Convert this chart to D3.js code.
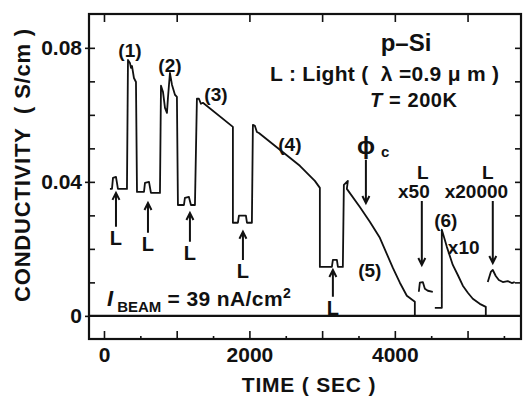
<!DOCTYPE html>
<html>
<head>
<meta charset="utf-8">
<script src="https://cdn.jsdelivr.net/npm/d3@7/dist/d3.min.js"></script>
<style>
  body { margin: 0; background: #fff; }
  svg text { font-family: "Liberation Sans", Arial, sans-serif; font-weight: bold; fill: #111; white-space: pre; }
</style>
</head>
<body>
<svg id="graph"></svg>
<script>
// runs (1) - (5), one continuous trace (time in s, conductivity in S/cm)
const mainTime = [82, 110, 124, 165, 192, 316, 330, 357, 371, 385, 412, 440, 454, 550, 564, 619, 646, 770,
    784, 811, 839, 866, 880, 907, 935, 976, 1003, 1017, 1100, 1113, 1168, 1196, 1251, 1278, 1306, 1333, 1361,
    1773, 1773, 1842, 1856, 1952, 1966, 2034, 2048, 2076, 2103, 2131, 2419, 2694, 2900, 2969, 2969, 3134,
    3148, 3203, 3217, 3285, 3299, 3354, 3340, 3519, 3656, 3794, 3973, 4069, 4165, 4275, 4275]
const mainCond = [0.0379, 0.0379, 0.0412, 0.0415, 0.0379, 0.0379, 0.0764, 0.0755, 0.0740, 0.0746, 0.0710,
    0.0698, 0.0370, 0.0370, 0.0397, 0.0400, 0.0367, 0.0367, 0.0687, 0.0669, 0.0621, 0.0606, 0.0651, 0.0725,
    0.0690, 0.0660, 0.0654, 0.0331, 0.0331, 0.0352, 0.0355, 0.0331, 0.0331, 0.0648, 0.0648, 0.0633, 0.0636,
    0.0564, 0.0278, 0.0278, 0.0299, 0.0299, 0.0278, 0.0278, 0.0570, 0.0567, 0.0549, 0.0546, 0.0496, 0.0448,
    0.0403, 0.0382, 0.0146, 0.0146, 0.0167, 0.0167, 0.0146, 0.0146, 0.0391, 0.0403, 0.0379, 0.0325, 0.0281,
    0.0233, 0.0143, 0.0099, 0.0060, 0.0042, 0]

// run (6), plotted x10
const run6Time = [4550, 4646, 4646, 4687, 4715, 4797, 4866, 4935, 5004, 5072, 5168, 5251, 5251]
const run6Cond = [0.0024, 0.0024, 0.0257, 0.0227, 0.0206, 0.0152, 0.0122, 0.0090, 0.0069, 0.0051, 0.0036, 0.0027, 0]

// light pulses at x50 and x20000
const x50Time = [4330, 4344, 4385, 4413, 4454, 4522]
const x50Cond = [0.0072, 0.0099, 0.0101, 0.0081, 0.0075, 0.0072]
const x20kTime = [5278, 5320, 5347, 5388, 5430, 5485, 5553, 5608, 5649]
const x20kCond = [0.0101, 0.0131, 0.0137, 0.0119, 0.0107, 0.0101, 0.0104, 0.0098, 0.0101]

const xTickValues = [0, 1000, 2000, 3000, 4000, 5000]
const xTickLabels = ["0", "", "2000", "", "4000", ""]
const xMinorTicks = [500, 1500, 2500, 3500, 4500, 5500]
const yTickValues = [0, 0.04, 0.08]
const yTickLabels = ["0", "0.04", "0.08"]
const yMinorTicks = [0.01, 0.02, 0.03, 0.04, 0.05, 0.06, 0.07, 0.08]

// "L" arrows pointing up at the light pulses: time, tip, tail
const upArrows = [
    { t: 165, tip: 0.0367, tail: 0.0266 },
    { t: 605, tip: 0.0337, tail: 0.0248 },
    { t: 1182, tip: 0.0307, tail: 0.0221 },
    { t: 1911, tip: 0.0251, tail: 0.0167 },
    { t: 3148, tip: 0.0137, tail: 0.0057 }
]
const downArrows = [
    { t: 3602, tip: 0.0337, tail: 0.0466 },
    { t: 4371, tip: 0.0152, tail: 0.0343 },
    { t: 5347, tip: 0.0158, tail: 0.0343 }
]

const svgDimensions = { width: 525, height: 397 }
const frame = { left: 89, right: 521, top: 14, bottom: 339 }

const svg = d3.select('#graph')
    .attr('width', svgDimensions.width)
    .attr('height', svgDimensions.height)

const x = d3.scaleLinear().domain([-206, 5735]).range([frame.left, frame.right])
const y = d3.scaleLinear().domain([-0.0069, 0.0901]).range([frame.bottom, frame.top])

// ticks
function cleanAxis(g) {
    g.select('.domain').remove()
    g.selectAll('.tick line').attr('stroke', '#111').attr('stroke-width', 1.6)
    g.selectAll('text').attr('font-size', 21).attr('fill', '#111')
}

svg.append('g').attr('transform', `translate(0,${frame.bottom})`)
    .call(d3.axisBottom(x).tickValues(xMinorTicks).tickSize(-3).tickFormat(''))
    .call(cleanAxis)
svg.append('g').attr('transform', `translate(0,${frame.bottom})`)
    .call(d3.axisBottom(x).tickValues(xTickValues).tickSize(-8).tickPadding(8)
        .tickFormat((d, i) => xTickLabels[i]))
    .call(cleanAxis)
svg.append('g').attr('transform', `translate(0,${frame.top})`)
    .call(d3.axisTop(x).tickValues(xTickValues).tickSize(-8).tickFormat(''))
    .call(cleanAxis)

svg.append('g').attr('transform', `translate(${frame.left},0)`)
    .call(d3.axisLeft(y).tickValues(yMinorTicks).tickSize(-6).tickFormat(''))
    .call(cleanAxis)
svg.append('g').attr('transform', `translate(${frame.left},0)`)
    .call(d3.axisLeft(y).tickValues(yTickValues).tickSize(4).tickPadding(3)
        .tickFormat((d, i) => yTickLabels[i]))
    .call(cleanAxis)
svg.append('g').attr('transform', `translate(${frame.right},0)`)
    .call(d3.axisRight(y).tickValues(yMinorTicks).tickSize(-6).tickFormat(''))
    .call(cleanAxis)

// frame + zero line
svg.append('rect')
    .attr('x', frame.left).attr('y', frame.top)
    .attr('width', frame.right - frame.left).attr('height', frame.bottom - frame.top)
    .attr('fill', 'none').attr('stroke', '#111').attr('stroke-width', 2.2)
svg.append('line')
    .attr('x1', frame.left).attr('x2', frame.right)
    .attr('y1', y(0)).attr('y2', y(0))
    .attr('stroke', '#111').attr('stroke-width', 2.2)

// traces
const line = d3.line().x(d => x(d[0])).y(d => y(d[1]))
const traces = [[mainTime, mainCond], [run6Time, run6Cond], [x50Time, x50Cond], [x20kTime, x20kCond]]
traces.forEach(([ts, cs]) => {
    svg.append('path')
        .datum(ts.map((t, i) => [t, cs[i]]))
        .attr('d', line)
        .attr('fill', 'none')
        .attr('stroke', '#111')
        .attr('stroke-width', 1.8)
        .attr('stroke-linejoin', 'round')
})

// arrows
function arrow(t, tip, tail) {
    const px = x(t), y0 = y(tip), y1 = y(tail)
    const dir = y1 > y0 ? 1 : -1
    svg.append('path')
        .attr('d', `M${px},${y1}L${px},${y0}M${px - 3.5},${y0 + dir * 7}L${px},${y0}L${px + 3.5},${y0 + dir * 7}`)
        .attr('fill', 'none').attr('stroke', '#111').attr('stroke-width', 2)
}
upArrows.forEach(a => {
    arrow(a.t, a.tip, a.tail)
    svg.append('text').attr('x', x(a.t)).attr('y', y(a.tail) + 18)
        .attr('text-anchor', 'middle').attr('font-size', 20).text('L')
})
downArrows.forEach(a => arrow(a.t, a.tip, a.tail))

function label(txt, px, py, size, anchor) {
    return svg.append('text').attr('x', px).attr('y', py)
        .attr('font-size', size).attr('text-anchor', anchor || 'middle').text(txt)
}

// run numbers
label('(1)', x(357), y(0.0773), 19)
label('(2)', x(907), y(0.0728), 19)
label('(3)', x(1540), y(0.0642), 19)
label('(4)', x(2557), y(0.0493), 19)
label('(5)', x(3656), y(0.0116), 19)
label('(6)', x(4701), y(0.0266), 19)
label('x10', x(4729), y(0.0185), 19, 'start')

// scale factors over the small pulses
label('L', x(4385), y(0.0410), 19)
label('x50', x(4262), y(0.0352), 19)
label('L', x(5278), y(0.0410), 19)
label('x20000', x(5122), y(0.0352), 19)

// phi_c
label('\u03d5', x(3602), y(0.0484), 24)
svg.append('text').attr('x', x(3602) + 15).attr('y', y(0.0473)).attr('font-size', 15).text('c')

// header text
label('p\u2013Si', 406, 51, 24)
label('L : Light (  \u03bb =0.9 \u03bc m )', 270, 81, 21, 'start').attr('letter-spacing', 0.3)
const tText = label('', 370, 107, 20, 'start').attr('letter-spacing', 0.6)
tText.append('tspan').attr('font-style', 'italic').text('T')
tText.append('tspan').text(' = 200K')

const beam = label('', 107, 306, 22, 'start')
beam.append('tspan').attr('font-style', 'italic').text('I')
beam.append('tspan').attr('font-size', 15).attr('dx', 4).attr('dy', 6).text('BEAM')
beam.append('tspan').attr('font-size', 21).attr('dy', -6).attr('letter-spacing', 0.4).text(' = 39 nA/cm')
beam.append('tspan').attr('font-size', 14).attr('dy', -8).text('2')

// axis titles
label('TIME ( SEC )', 309, 392, 21).attr('letter-spacing', 0.8)
svg.append('text')
    .attr('transform', 'translate(30,165) rotate(-90)')
    .attr('text-anchor', 'middle')
    .attr('font-size', 22)
    .attr('letter-spacing', 0.8)
    .text('CONDUCTIVITY  ( S/cm )')
</script>
</body>
</html>
